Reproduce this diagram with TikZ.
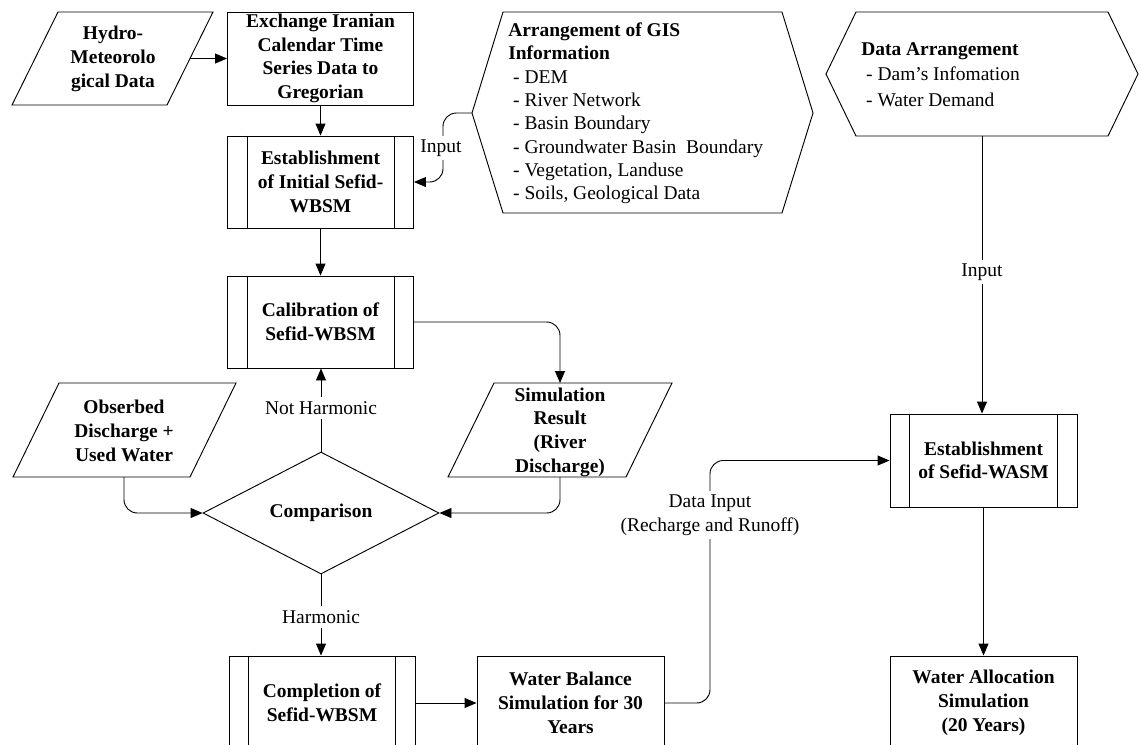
\documentclass[tikz,border=0pt]{standalone}
\usepackage{fontspec}
\setmainfont{Liberation Serif}
\usetikzlibrary{arrows.meta,shapes.geometric}
\begin{document}
\begin{tikzpicture}[x=0.75pt,y=-0.75pt,
  ln/.style={line width=0.7pt},
  arr/.style={ln,-{Triangle[length=9pt,width=7.5pt]}},
  box/.style={draw,ln,rectangle,inner sep=0pt,align=center,
    font=\fontsize{14.6}{17.8}\selectfont\bfseries,minimum width=139.5pt,minimum height=69pt},
  txt/.style={inner sep=0pt,align=center,font=\fontsize{14.6}{17.8}\selectfont\bfseries},
  lbl/.style={fill=white,inner xsep=1pt,inner ysep=3pt,align=center,font=\fontsize{14.6}{17.8}\selectfont},
  ]
\useasboundingbox (0,0) rectangle (1141,744);
\clip (0,0) rectangle (1141,744);

% ---------- shapes ----------
% Hydro-meteorological data (parallelogram)
\draw[ln] (58,12) -- (213,12) -- (167,105) -- (12,105) -- cycle;
\node[txt] (hydro) at (113,59) {Hydro-\\Meteorolo\\gical Data};
\coordinate (hydroR) at (190,58.5);

\node[box,minimum height=69.75pt] (exch) at (320.5,58.5) {Exchange Iranian\\Calendar Time\\Series Data to\\Gregorian};
\node[box] (init) at (320.5,182) {Establishment\\of Initial Sefid-\\WBSM};
\node[box] (calib) at (320.5,322) {Calibration of\\Sefid-WBSM};

% GIS hexagon
\draw[ln] (472,113) -- (503,12) -- (782,12) -- (813,113) -- (782,213) -- (503,213) -- cycle;
\coordinate (gisL) at (472,113);
\node[anchor=west,inner sep=0pt,align=left,font=\fontsize{14.6}{17.5}\selectfont] (gis) at (508,113.5)
 {\textbf{Arrangement of GIS}\\\textbf{Information}\\
  \hspace*{3.7pt}- DEM\\\hspace*{3.7pt}- River Network\\\hspace*{3.7pt}- Basin Boundary\\
  \hspace*{3.7pt}- Groundwater Basin~~Boundary\\\hspace*{3.7pt}- Vegetation, Landuse\\
  \hspace*{3.7pt}- Soils, Geological Data};

% Data arrangement hexagon
\draw[ln] (826,74) -- (856,12) -- (1108,12) -- (1138,74) -- (1108,136) -- (856,136) -- cycle;
\coordinate (dataB) at (982,136);
\node[anchor=west,inner sep=0pt,align=left,font=\fontsize{14.6}{19.1}\selectfont] (data) at (861,74.5)
 {\textbf{Data Arrangement}\\\hspace*{3.7pt}- Dam's Infomation\\\hspace*{3.7pt}- Water Demand};

% Observed discharge (parallelogram)
\draw[ln] (59,383) -- (236,383) -- (190,477) -- (13,477) -- cycle;
\node[txt] (obs) at (124,431) {Obserbed\\Discharge +\\Used Water};
\coordinate (obsB) at (124,477);

% Simulation result (parallelogram)
\draw[ln] (494,383) -- (672,383) -- (626,477) -- (448,477) -- cycle;
\node[txt] (sim) at (560,432) {Simulation\\Result\\(River\\Discharge)};
\coordinate (simT) at (560,383);
\coordinate (simB) at (560,477);

% Comparison
\node[diamond,draw,ln,aspect=2,inner sep=0pt,minimum width=177pt,minimum height=91.5pt,
  font=\fontsize{14.6}{17.8}\selectfont\bfseries] (cmp) at (321,513) {Comparison};

\node[box,minimum height=70.5pt,minimum width=139.5pt] (compl) at (322,703) {Completion of\\Sefid-WBSM};
\node[box,minimum height=70.5pt,minimum width=140.25pt] (wbal) at (570.5,703) {Water Balance\\Simulation for 30\\Years};
\node[box,minimum height=69.75pt,minimum width=140.25pt] (wasm) at (983.5,460.5) {Establishment\\of Sefid-WASM};
\node[box,minimum height=70.5pt,minimum width=140.25pt] (walloc) at (983.5,703) {Water Allocation\\Simulation\\(20 Years)};

% predefined-process side bars
\foreach \n in {init,calib,compl,wasm}{
  \draw[ln] ([xshift=15pt]\n.north west) -- ([xshift=15pt]\n.south west)
            ([xshift=-15pt]\n.north east) -- ([xshift=-15pt]\n.south east);
}

% ---------- connectors ----------
\draw[arr] (hydroR) -- (exch.west);
\draw[arr] (exch.south) -- (init.north);
\draw[arr,rounded corners=10pt] (gisL) -| (443,150) |- (init.east);
\draw[arr] (init.south) -- (calib.north);
\draw[arr,rounded corners=10pt] (calib.east) -| (simT);
\draw[arr,rounded corners=10pt] (obsB) |- (cmp.west);
\draw[arr,rounded corners=10pt] (simB) |- (cmp.east);
\draw[arr] (cmp.north) -- (cmp.north |- calib.south);
\draw[arr] (cmp.south) -- (cmp.south |- compl.north);
\draw[arr] (compl.east) -- (wbal.west);
\draw[arr,rounded corners=10pt] (wbal.east) -| (710,540) |- (wasm.west);
\draw[arr] (dataB) -- (dataB |- wasm.north);
\draw[arr] (wasm.south) -- (walloc.north);

% ---------- labels ----------
\node[lbl] (lin1) at (441,148) {Input};
\node[lbl] (lnh) at (321,408) {Not Harmonic};
\node[lbl] (lh) at (321,617) {Harmonic};
\node[lbl] (ldi) at (710,515) {Data Input\\(Recharge and Runoff)};
\node[lbl] (lin2) at (982,272) {Input};
\end{tikzpicture}
\end{document}
